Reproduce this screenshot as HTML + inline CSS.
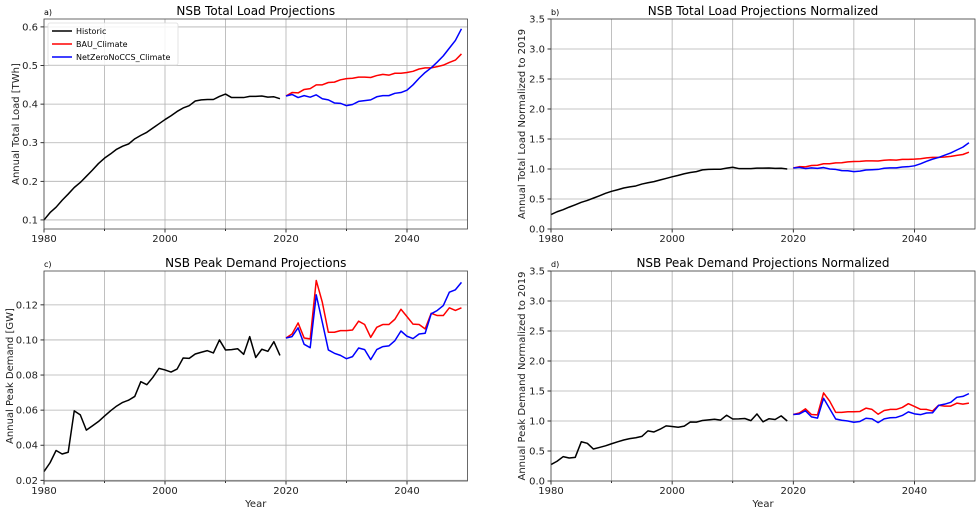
<!DOCTYPE html>
<html><head><meta charset="utf-8">
<style>
html,body{margin:0;padding:0;background:#fff;}
svg{display:block;font-family:"DejaVu Sans","Liberation Sans",sans-serif;}
</style></head>
<body>
<svg id="chart" width="979" height="513" viewBox="0 0 979 513" xmlns="http://www.w3.org/2000/svg"></svg>
<script>
const years = Array.from({length:40},(_,i)=>1980+i);
const projYears = Array.from({length:30},(_,i)=>2020+i);
const loadHistoric = [0.100,0.119,0.133,0.151,0.167,0.184,0.197,0.213,0.229,0.246,0.260,0.271,0.283,0.291,0.297,0.310,0.319,0.327,0.338,0.349,0.360,0.370,0.381,0.390,0.396,0.408,0.411,0.412,0.412,0.420,0.426,0.417,0.417,0.417,0.420,0.420,0.421,0.418,0.419,0.414];
const loadBAU = [0.421,0.430,0.429,0.438,0.440,0.450,0.450,0.456,0.457,0.463,0.466,0.467,0.470,0.470,0.469,0.474,0.477,0.475,0.480,0.480,0.482,0.485,0.491,0.494,0.494,0.497,0.501,0.508,0.514,0.530];
const loadNZ = [0.421,0.425,0.417,0.422,0.418,0.424,0.414,0.411,0.403,0.402,0.396,0.399,0.407,0.409,0.411,0.419,0.422,0.422,0.428,0.430,0.436,0.450,0.467,0.482,0.494,0.509,0.525,0.545,0.565,0.595];
const peakHistoric = [0.025,0.030,0.037,0.035,0.036,0.0596,0.0573,0.0486,0.051,0.0535,0.0566,0.0596,0.0623,0.0644,0.0657,0.0678,0.0762,0.0745,0.0787,0.0838,0.0829,0.0817,0.0834,0.0897,0.0895,0.092,0.093,0.0939,0.0926,0.100,0.0943,0.0945,0.095,0.0918,0.1019,0.090,0.0947,0.0935,0.099,0.0912];
const peakBAU = [0.1011,0.1034,0.1097,0.1011,0.1006,0.1339,0.1215,0.1044,0.1044,0.1053,0.1053,0.1057,0.1107,0.1088,0.1015,0.1072,0.1088,0.1088,0.1118,0.1175,0.1133,0.109,0.1088,0.1063,0.1152,0.1139,0.1139,0.1183,0.1168,0.1183];
const peakNZ = [0.1011,0.1019,0.1069,0.0975,0.0956,0.1257,0.1101,0.0943,0.0924,0.0912,0.0893,0.0905,0.0954,0.0945,0.0888,0.0945,0.0962,0.0966,0.0996,0.1051,0.1021,0.1008,0.1034,0.1038,0.1149,0.1168,0.1196,0.1272,0.1286,0.1328];
const xTicks = [1980,2000,2020,2040];
const xMinor = [1990,2010,2030];
const loadTicks = [0.1,0.2,0.3,0.4,0.5,0.6];
const peakTicks = [0.02,0.04,0.06,0.08,0.10,0.12];
const normTicks = [0,0.5,1,1.5,2,2.5,3,3.5];

const svg = document.getElementById('chart');
const NS = 'http://www.w3.org/2000/svg';
function el(tag, attrs, parent){const e=document.createElementNS(NS,tag);for(const k in attrs)e.setAttribute(k,attrs[k]);(parent||svg).appendChild(e);return e;}

function panel(cfg){
  const g = el('g',{});
  
  
  const L=cfg.x0,R=cfg.x1,T=cfg.y0,B=cfg.y1;
  const sx = v => L + (v-1980)/(2050-1980)*(R-L);
  const sy = v => B - (v-cfg.ymin)/(cfg.ymax-cfg.ymin)*(B-T);
  // grid
  [...xTicks,...xMinor].forEach(t=>{
    const ln = el('line',{x1:sx(t),x2:sx(t),y1:T,y2:B,stroke:'#b0b0b0','stroke-width':0.8},g);
    
    
    el('line',{x1:sx(t),x2:sx(t),y1:B,y2:B+(xTicks.includes(t)?3.5:2),stroke:'#000','stroke-width':0.8},g);
  });
  cfg.yticks.forEach(t=>{
    const ln = el('line',{x1:L,x2:R,y1:sy(t),y2:sy(t),stroke:'#b0b0b0','stroke-width':0.8},g);
    
    
    el('line',{x1:L-3.5,x2:L,y1:sy(t),y2:sy(t),stroke:'#000','stroke-width':0.8},g);
    const tx = el('text',{x:L-6,y:sy(t)+3.5,'text-anchor':'end','font-size':10,fill:'#222'},g);
    tx.textContent = cfg.fmt(t);
    
    
  });
  xTicks.forEach(t=>{
    const tx = el('text',{x:sx(t),y:B+13,'text-anchor':'middle','font-size':10,fill:'#222'},g);
    tx.textContent = t;
    
    
  });
  function line(xs, ys, color, name){
    const d = xs.map((x,i)=>(i?'L':'M')+sx(x).toFixed(2)+','+sy(ys[i]).toFixed(2)).join('');
    const p = el('path',{d:d,fill:'none',stroke:color,'stroke-width':1.5,'stroke-linejoin':'round'},g);
    
    
  }
  line(years, cfg.hist, '#000', 'historic-line');
  line(projYears, cfg.bau, '#ff0000', 'bau-climate-line');
  line(projYears, cfg.nz, '#0000ff', 'netzero-noccs-climate-line');
  const fr = el('rect',{x:L,y:T,width:R-L,height:B-T,fill:'none',stroke:'#444','stroke-width':0.8},g);
  
  
  const ti = el('text',{x:(L+R)/2,y:T-4,'text-anchor':'middle','font-size':12,fill:'#000'},g);
  ti.textContent = cfg.title;
  
  
  const pl = el('text',{x:L,y:T-4,'font-size':8,fill:'#000'},g);
  pl.textContent = cfg.letter;
  
  
  const yl = el('text',{x:0,y:0,'text-anchor':'middle','font-size':10,fill:'#222',transform:`translate(${cfg.ylx},${(T+B)/2}) rotate(-90)`},g);
  yl.textContent = cfg.ylabel;
  
  
  if(cfg.xlabel){
    const xl = el('text',{x:(L+R)/2,y:B+26,'text-anchor':'middle','font-size':10,fill:'#222'},g);
    xl.textContent = 'Year';
    
    
  }
  if(cfg.legend){
    const lg = el('g',{},g);
    
    
    el('rect',{x:L+4,y:T+4,width:130,height:42,fill:'#fff','fill-opacity':0.85,stroke:'#ddd','stroke-width':0.8,rx:2},lg);
    [['Historic','#000'],['BAU_Climate','#ff0000'],['NetZeroNoCCS_Climate','#0000ff']].forEach((e,i)=>{
      const ey = T+12+i*13;
      const en = el('g',{},lg);
      
      
      el('line',{x1:L+8,x2:L+28,y1:ey,y2:ey,stroke:e[1],'stroke-width':1.5},en);
      const t = el('text',{x:L+32,y:ey+3,'font-size':8,fill:'#000'},en);
      t.textContent = e[0];
    });
  }
}
const fmt1 = v=>v.toFixed(1), fmt2 = v=>v.toFixed(2);
const lb = loadHistoric[loadHistoric.length-1], pb = peakHistoric[peakHistoric.length-1];
const norm = (a,b)=>a.map(v=>v/b);
panel({name:'panel-a-total-load',x0:44,x1:467.5,y0:19,y1:229,ymin:0.0765,ymax:0.6205,yticks:loadTicks,fmt:fmt1,hist:loadHistoric,bau:loadBAU,nz:loadNZ,title:'NSB Total Load Projections',letter:'a)',ylabel:'Annual Total Load [TWh]',ylx:19,legend:true});
panel({name:'panel-b-total-load-normalized',x0:551,x1:975,y0:19,y1:229,ymin:0,ymax:3.5,yticks:normTicks,fmt:fmt1,hist:norm(loadHistoric,lb),bau:norm(loadBAU,lb),nz:norm(loadNZ,lb),title:'NSB Total Load Projections Normalized',letter:'b)',ylabel:'Annual Total Load Normalized to 2019',ylx:525});
panel({name:'panel-c-peak-demand',x0:44,x1:467.5,y0:271,y1:481,ymin:0.0196,ymax:0.1393,yticks:peakTicks,fmt:fmt2,hist:peakHistoric,bau:peakBAU,nz:peakNZ,title:'NSB Peak Demand Projections',letter:'c)',ylabel:'Annual Peak Demand [GW]',ylx:13,xlabel:true});
panel({name:'panel-d-peak-demand-normalized',x0:551,x1:975,y0:271,y1:481,ymin:0,ymax:3.5,yticks:normTicks,fmt:fmt1,hist:norm(peakHistoric,pb),bau:norm(peakBAU,pb),nz:norm(peakNZ,pb),title:'NSB Peak Demand Projections Normalized',letter:'d)',ylabel:'Annual Peak Demand Normalized to 2019',ylx:525,xlabel:true});
</script>
</body></html>
